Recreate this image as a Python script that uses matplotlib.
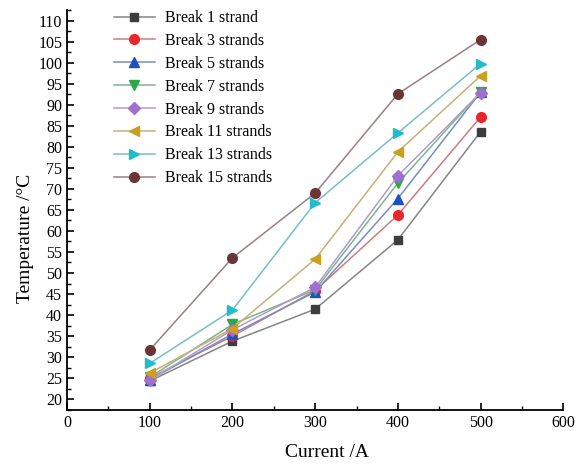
import matplotlib.pyplot as plt
from matplotlib.ticker import MultipleLocator
from matplotlib.colors import to_rgb

plt.rcParams['font.family'] = ['Liberation Serif', 'DejaVu Serif']

current = [100, 200, 300, 400, 500]
labels = ["Break 1 strand", "Break 3 strands", "Break 5 strands", "Break 7 strands",
          "Break 9 strands", "Break 11 strands", "Break 13 strands", "Break 15 strands"]
b1 = [24.3, 33.8, 41.4, 57.9, 83.6]
b3 = [25.0, 35.0, 45.8, 63.8, 87.1]
b5 = [24.6, 35.5, 45.5, 67.7, 93.0]
b7 = [25.2, 37.8, 46.0, 71.4, 93.0]
b9 = [24.5, 36.5, 46.6, 73.1, 92.9]
b11 = [26.2, 36.8, 53.3, 78.8, 96.9]
b13 = [28.5, 41.2, 66.7, 83.3, 99.8]
b15 = [31.7, 53.6, 69.0, 92.6, 105.5]
series = [b1, b3, b5, b7, b9, b11, b13, b15]

colors = ["#3d3d3d", "#e8262b", "#1f4fc4", "#2aa84a", "#a070d0", "#c9a020", "#22bccb", "#6b3535"]
markers = ["s", "o", "^", "v", "D", "<", ">", "o"]
msizes = [6, 7, 7, 7, 6, 7, 7, 7]

fig = plt.figure(figsize=(5.88, 4.66), dpi=100)
ax = fig.add_axes([0.114, 0.12, 0.844, 0.859])

for y, lab, c, m, ms in zip(series, labels, colors, markers, msizes):
    r, g, b = to_rgb(c)
    light = (0.45 * r + 0.55 * 0.75, 0.45 * g + 0.55 * 0.75, 0.45 * b + 0.55 * 0.75)
    ax.plot(current, y, color=light, lw=1.1, marker=m, markersize=ms,
            markerfacecolor=c, markeredgecolor=c, label=lab)

ax.set_xlim(0, 600)
ax.set_ylim(17.4, 112.6)
ax.xaxis.set_major_locator(MultipleLocator(100))
ax.xaxis.set_minor_locator(MultipleLocator(50))
ax.yaxis.set_major_locator(MultipleLocator(5))
ax.yaxis.set_minor_locator(MultipleLocator(2.5))
ax.tick_params(direction='in', which='major', length=5, width=1.2, labelsize=11.5)
ax.tick_params(direction='in', which='minor', length=3, width=1.0)
ax.spines['top'].set_visible(False)
ax.spines['right'].set_visible(False)
ax.spines['left'].set_linewidth(1.3)
ax.spines['bottom'].set_linewidth(1.3)

ax.set_xlabel("Current /A", fontsize=14)
ax.set_ylabel("Temperature /°C", fontsize=14)
ax.xaxis.set_label_coords(0.524, -0.085)
ax.yaxis.set_label_coords(-0.066, 0.43)

ax.legend(loc='upper left', bbox_to_anchor=(0.065, 1.035), frameon=False, fontsize=11.5,
          handlelength=2.6, handletextpad=0.6, labelspacing=0.43)

fig.savefig("out.png", dpi=100)
